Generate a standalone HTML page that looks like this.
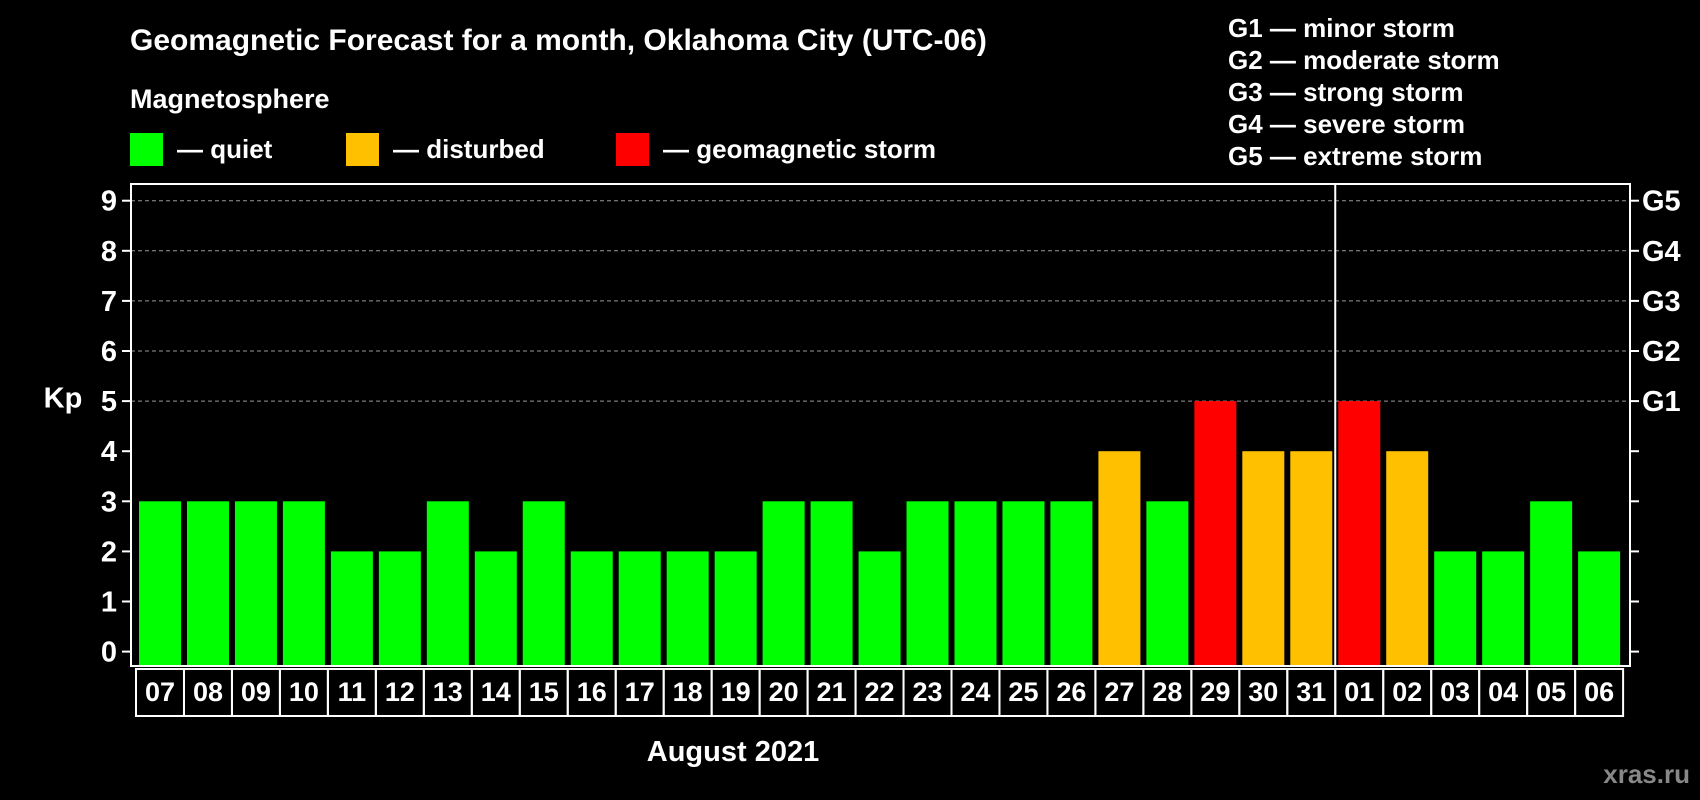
<!DOCTYPE html>
<html><head><meta charset="utf-8"><style>
body{margin:0;background:#000;width:1700px;height:800px;overflow:hidden}
svg{display:block;font-family:"Liberation Sans",Arial,sans-serif;font-weight:bold}
</style></head><body>
<svg id="c" width="1700" height="800">
<rect width="1700" height="800" fill="#000"/>
<text x="130" y="50" fill="#fff" font-size="30">Geomagnetic Forecast for a month, Oklahoma City (UTC-06)</text>
<text x="130" y="108" fill="#fff" font-size="27">Magnetosphere</text>
<rect x="130" y="133" width="33" height="33" fill="#00ff00"/>
<text x="177" y="158" fill="#fff" font-size="26">— quiet</text>
<rect x="346" y="133" width="33" height="33" fill="#ffc000"/>
<text x="393" y="158" fill="#fff" font-size="26">— disturbed</text>
<rect x="616" y="133" width="33" height="33" fill="#ff0000"/>
<text x="663" y="158" fill="#fff" font-size="26">— geomagnetic storm</text>
<g fill="#fff" font-size="26">
<text x="1228" y="37">G1 — minor storm</text>
<text x="1228" y="69">G2 — moderate storm</text>
<text x="1228" y="101">G3 — strong storm</text>
<text x="1228" y="133">G4 — severe storm</text>
<text x="1228" y="165">G5 — extreme storm</text>
</g>
<text x="63" y="400" fill="#fff" font-size="29" text-anchor="middle" dominant-baseline="middle">Kp</text>
<text x="733" y="761" fill="#fff" font-size="29" text-anchor="middle">August 2021</text>
<text x="1690" y="783" fill="#888" font-size="26" text-anchor="end">xras.ru</text>
<g id="plot"></g>
</svg>
<script>
const days=["07","08","09","10","11","12","13","14","15","16","17","18","19","20","21","22","23","24","25","26","27","28","29","30","31","01","02","03","04","05","06"];
const kp=[3,3,3,3,2,2,3,2,3,2,2,2,2,3,3,2,3,3,3,3,4,3,5,4,4,5,4,2,2,3,2];
const yTicks=[0,1,2,3,4,5,6,7,8,9];
const gLabels=["G1","G2","G3","G4","G5"];
const NS="http://www.w3.org/2000/svg";
const g=document.getElementById('plot');
const L=131,R=1630,T=184,B=666;
const y=v=>651.6-v*50.1;
const x=i=>139+i*47.97;
function mk(t,a){const e=document.createElementNS(NS,t);for(const k in a)e.setAttribute(k,a[k]);g.appendChild(e);return e;}
yTicks.forEach(v=>{
  if(v>=5){const l=mk('line',{x1:L,x2:R,y1:y(v),y2:y(v),stroke:'#999','stroke-dasharray':'4,3','stroke-width':1});
  
  }
  const t1=mk('line',{x1:L-9,x2:L,y1:y(v),y2:y(v),stroke:'#fff','stroke-width':2});
  
  
  const t2=mk('line',{x1:R,x2:R+9,y1:y(v),y2:y(v),stroke:'#fff','stroke-width':2});
  
  
  const tx=mk('text',{x:117,y:y(v)+10,fill:'#fff','font-size':29,'text-anchor':'end'});tx.textContent=v;
  
  
});
gLabels.forEach((s,i)=>{
  const tx=mk('text',{x:1642,y:y(5+i)+10,fill:'#fff','font-size':29});tx.textContent=s;
  
  
});
kp.forEach((v,i)=>{
  const c=v>=5?'#ff0000':v==4?'#ffc000':'#00ff00';
  const r=mk('rect',{x:x(i),y:y(v),width:42,height:B-1-y(v),fill:c});
  
  
  const b=mk('rect',{x:x(i)-3,y:669,width:48,height:47,fill:'none',stroke:'#fff','stroke-width':2});
  
  
  const t=mk('text',{x:x(i)+21,y:701,fill:'#fff','font-size':27,'text-anchor':'middle'});t.textContent=days[i];
  
  
});
const sep=mk('line',{x1:x(25)-3,x2:x(25)-3,y1:T,y2:B,stroke:'#fff','stroke-width':2});


const fr=mk('rect',{x:L,y:T,width:R-L,height:B-T,fill:'none',stroke:'#fff','stroke-width':2});


</script>
</body></html>
